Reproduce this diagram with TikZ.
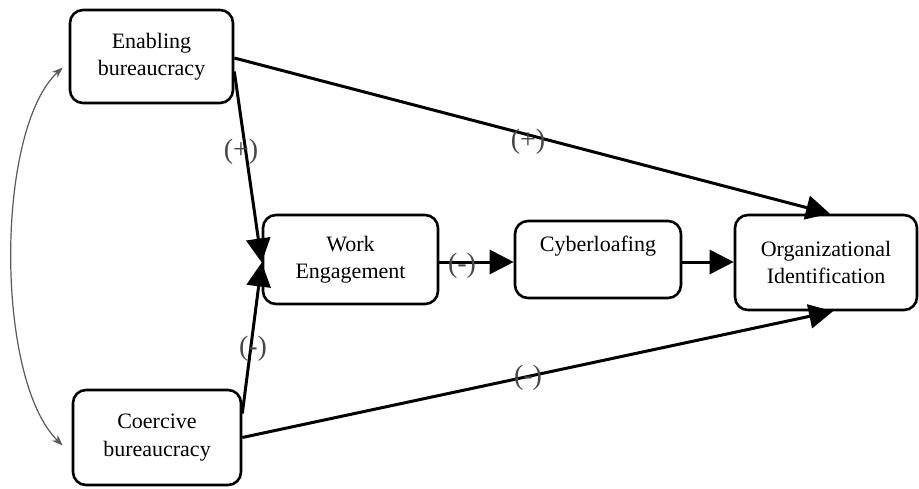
\documentclass[tikz,border=0pt]{standalone}
\usepackage{fontspec}
\setmainfont{Liberation Serif}
\usetikzlibrary{arrows.meta}
\begin{document}
\begin{tikzpicture}[x=1pt,y=-1pt,
  box/.style={draw=black,line width=2.6pt,rounded corners=13pt,fill=white,align=center,
    font=\fontsize{22}{27.5}\selectfont,inner sep=0pt},
  conn/.style={line width=3pt,-{Triangle[length=24pt,width=24pt]}},
  sign/.style={font=\fontsize{28}{30}\selectfont,text=black!72,inner sep=0pt},
  corr/.style={line width=1.2pt,draw=black!65,{Stealth[length=11pt,width=8pt]}-{Stealth[length=11pt,width=8pt]}}]
\useasboundingbox (0,0) rectangle (919,488);
\node[box,minimum width=163pt,minimum height=93pt] (en) at (151.5,56.5) {Enabling\\bureaucracy};
\node[box,minimum width=168pt,minimum height=95pt] (co) at (157,437.5) {Coercive\\bureaucracy};
\node[box,minimum width=175pt,minimum height=89pt] (we) at (350.5,259.5) {Work\\Engagement};
\node[box,minimum width=166pt,minimum height=77pt] (cy) at (598,259.5) {Cyberloafing\\[-4pt]\strut};
\node[box,minimum width=182pt,minimum height=95pt] (oi) at (826,262.5) {Organizational\\Identification};
% connectors
\draw[conn] ([yshift=-1.5pt]en.east) -- ([xshift=4pt]oi.north);
\draw[conn] ([yshift=-15pt]en.east) -- ([yshift=-3pt]we.west);
\draw[conn] ([yshift=24pt]co.east) -- ([yshift=-3pt]we.west);
\draw[conn] (co.east) -- ([xshift=7pt]oi.south);
\draw[conn] ([yshift=-2.5pt]we.east) -- ([yshift=-2.5pt]cy.west);
\draw[conn] ([yshift=-2.5pt]cy.east) -- ([yshift=0.5pt]oi.west);
\draw[corr] ([xshift=-6pt,yshift=-11pt]en.west) .. controls (-5,130) and (-5,380) .. ([xshift=-9pt,yshift=-8pt]co.west);
% signs
\node[sign] (s1) at (241,152) {(+)};
\node[sign] (s2) at (528,142) {(+)};
\node[sign] (s3) at (462,266) {(-)};
\node[sign] (s4) at (253,349) {(-)};
\node[sign] (s5) at (528,378) {(-)};
\end{tikzpicture}
\end{document}
